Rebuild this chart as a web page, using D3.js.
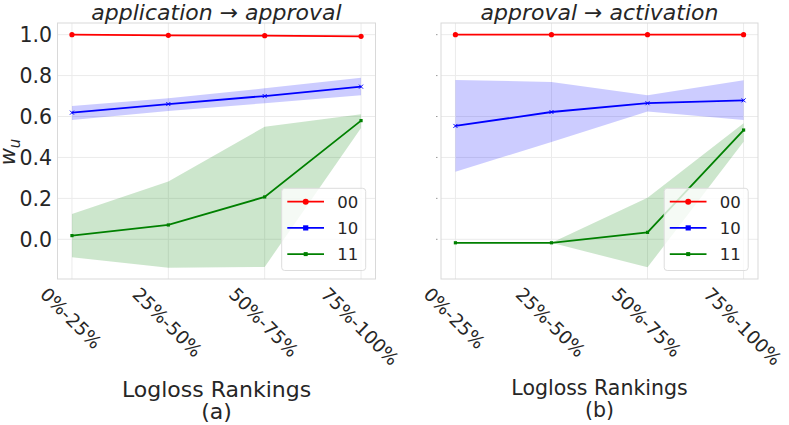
<!DOCTYPE html>
<html><head><meta charset="utf-8">
<script src="https://cdn.jsdelivr.net/npm/d3@7"></script>
<style>body{margin:0;background:#fff}svg{display:block}text{font-family:"DejaVu Sans";fill:#262626}</style>
</head><body><svg id="c" width="789" height="425"></svg>
<script>
const categories = ["0%-25%","25%-50%","50%-75%","75%-100%"];
const seriesNames = ["00","10","11"];
const yTicks = [0.0,0.2,0.4,0.6,0.8,1.0];
const titles = ["application \u2192 approval","approval \u2192 activation"];
const subLabels = ["(a)","(b)"];
// panel (a)
const a00 = [1.000,0.997,0.995,0.992], a00lo=[0.998,0.995,0.993,0.990], a00hi=[1.002,0.999,0.997,0.994];
const a10 = [0.619,0.661,0.700,0.746], a10lo=[0.583,0.627,0.665,0.704], a10hi=[0.651,0.689,0.738,0.790];
const a11 = [0.018,0.070,0.207,0.580], a11lo=[-0.088,-0.139,-0.135,0.544], a11hi=[0.124,0.282,0.550,0.611];
// panel (b)
const b00 = [1.000,1.000,1.000,1.000], b00lo=[0.999,0.999,0.999,0.999], b00hi=[1.001,1.001,1.001,1.001];
const b10 = [0.554,0.622,0.665,0.679], b10lo=[0.330,0.476,0.624,0.583], b10hi=[0.779,0.769,0.704,0.777];
const b11 = [-0.017,-0.017,0.034,0.534], b11lo=[-0.017,-0.017,-0.137,0.477], b11hi=[-0.017,-0.017,0.203,0.567];

const colors = {"00":"#ff0000","10":"#0000ff","11":"#008000"};
const panels = [
  {x0:57.5,x1:375.5,title:titles[0],sub:subLabels[0],labelSize:22,showY:true,
   data:{"00":[a00,a00lo,a00hi],"10":[a10,a10lo,a10hi],"11":[a11,a11lo,a11hi]}},
  {x0:441,x1:758,title:titles[1],sub:subLabels[1],labelSize:20.5,showY:false,
   data:{"00":[b00,b00lo,b00hi],"10":[b10,b10lo,b10hi],"11":[b11,b11lo,b11hi]}}
];
const yTop=23, yBot=279;
const svg = d3.select("#c");
const y = d3.scaleLinear().domain([-0.194,1.057]).range([yBot,yTop]);

panels.forEach(p=>{
  const x = d3.scaleLinear().domain([-0.15,3.15]).range([p.x0,p.x1]);
  const g = svg.append("g");
  g.selectAll(".hg").data(yTicks).enter().append("line")
    .attr("x1",p.x0).attr("x2",p.x1).attr("y1",d=>y(d)).attr("y2",d=>y(d))
    .attr("stroke","#ebebeb").attr("stroke-width",1);
  g.selectAll(".vg").data(categories).enter().append("line")
    .attr("x1",(d,i)=>x(i)).attr("x2",(d,i)=>x(i)).attr("y1",yTop).attr("y2",yBot)
    .attr("stroke","#ebebeb").attr("stroke-width",1);
  seriesNames.forEach(s=>{
    const [v,lo,hi]=p.data[s];
    const area = d3.area().x((d,i)=>x(i)).y0((d,i)=>y(lo[i])).y1((d,i)=>y(hi[i]));
    g.append("path").datum(v).attr("d",area).attr("fill",colors[s]).attr("fill-opacity",0.2).attr("stroke","none");
  });
  seriesNames.forEach(s=>{
    const [v]=p.data[s];
    const line = d3.line().x((d,i)=>x(i)).y(d=>y(d));
    g.append("path").datum(v).attr("d",line).attr("fill","none").attr("stroke",colors[s]).attr("stroke-width",1.8);
    v.forEach((d,i)=>{
      const cx=x(i), cy=y(d);
      if(s==="00") g.append("circle").attr("cx",cx).attr("cy",cy).attr("r",2.6).attr("fill",colors[s]);
      else if(s==="10"){
        g.append("path").attr("d",`M${cx-2},${cy-2}L${cx+2},${cy+2}M${cx-2},${cy+2}L${cx+2},${cy-2}`).attr("stroke",colors[s]).attr("stroke-width",1);
      } else g.append("rect").attr("x",cx-1.6).attr("y",cy-1.6).attr("width",3.2).attr("height",3.2).attr("fill",colors[s]);
    });
  });
  g.append("rect").attr("x",p.x0).attr("y",yTop).attr("width",p.x1-p.x0).attr("height",yBot-yTop)
    .attr("fill","none").attr("stroke","#d9d9d9").attr("stroke-width",1);
  if(p.showY){
    g.selectAll(".yt").data(yTicks).enter().append("text")
      .attr("x",p.x0-5.5).attr("y",d=>y(d)).attr("dy","0.36em").attr("text-anchor","end")
      .style("font-size","20.5px").text(d=>d.toFixed(1));
  } else {
    g.selectAll(".ytm").data(yTicks).enter().append("line")
      .attr("x1",p.x0-5).attr("x2",p.x0-3.5).attr("y1",d=>y(d)).attr("y2",d=>y(d))
      .attr("stroke","#999").attr("stroke-width",1);
  }
  categories.forEach((c,i)=>{
    const t = g.append("text").style("font-size","18.5px").attr("text-anchor","middle")
      .attr("dominant-baseline","central").text(c);
    const w = t.node().getComputedTextLength();
    const h = 14;
    const W = (w+h)/Math.SQRT2;
    const cy = 286 + W/2;
    t.attr("transform",`translate(${x(i)-1},${cy}) rotate(45)`);
  });
  const cx=(p.x0+p.x1)/2;
  g.append("text").attr("x",cx).attr("y",19.5).attr("text-anchor","middle")
    .style("font-size","22px").style("font-style","italic").text(p.title);
  g.append("text").attr("x",cx).attr("y",p.labelSize===22?396.5:395).attr("text-anchor","middle")
    .style("font-size",p.labelSize+"px").text("Logloss Rankings");
  g.append("text").attr("x",cx).attr("y",p.labelSize===22?418.5:417).attr("text-anchor","middle")
    .style("font-size",p.labelSize+"px").text(p.sub);
  const lx0=p.x1-93.8, lx1=p.x1-9.8, ly0=188.3, ly1=270.5;
  const lg=g.append("g");
  lg.append("rect").attr("x",lx0).attr("y",ly0).attr("width",lx1-lx0).attr("height",ly1-ly0)
    .attr("rx",3).attr("fill","#fff").attr("fill-opacity",0.8).attr("stroke","#dddddd").attr("stroke-width",1);
  seriesNames.forEach((s,k)=>{
    const ry = 201.7 + k*26.2;
    lg.append("line").attr("x1",lx0+5.6).attr("x2",lx0+42.3).attr("y1",ry).attr("y2",ry)
      .attr("stroke",colors[s]).attr("stroke-width",1.8);
    const mx = lx0+24;
    if(s==="00") lg.append("circle").attr("cx",mx).attr("cy",ry).attr("r",3).attr("fill",colors[s]);
    else if(s==="10") lg.append("rect").attr("x",mx-2.6).attr("y",ry-2.6).attr("width",5.2).attr("height",5.2).attr("fill",colors[s]);
    else lg.append("rect").attr("x",mx-2).attr("y",ry-2).attr("width",4).attr("height",4).attr("fill",colors[s]);
    lg.append("text").attr("x",lx0+55.6).attr("y",ry).attr("dy","0.36em").style("font-size","16.5px").text(s);
  });
});
const yl = svg.append("text").attr("transform","translate(15,152) rotate(-90)").attr("text-anchor","middle")
  .style("font-size","21px").style("font-style","italic");
yl.append("tspan").text("w");
yl.append("tspan").attr("dy",5).style("font-size","15px").text("u");
</script></body></html>
